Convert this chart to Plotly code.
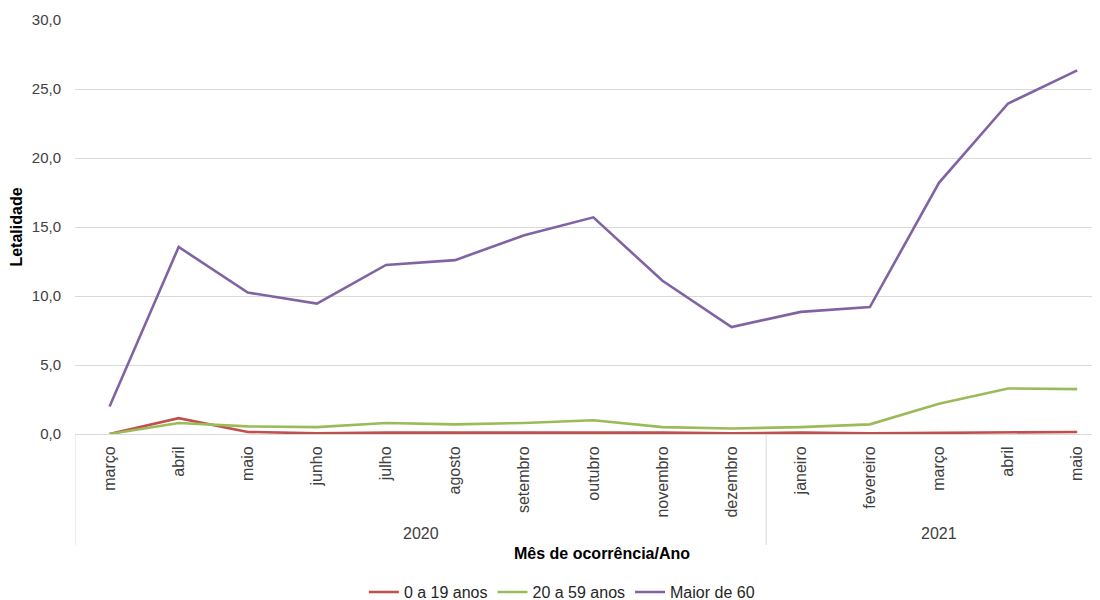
import plotly.graph_objects as go

years = ["2020", "2021"]
year_sizes = [10, 5]
months = ["março", "abril", "maio", "junho", "julho", "agosto", "setembro",
          "outubro", "novembro", "dezembro", "janeiro", "fevereiro", "março",
          "abril", "maio"]

s_0_19 = [0.0, 1.15, 0.15, 0.05, 0.1, 0.1, 0.1, 0.15, 0.1, 0.05, 0.1, 0.05, 0.1, 0.15, 0.15]
s_20_59 = [0.0, 0.8, 0.55, 0.5, 0.8, 0.7, 0.8, 1.0, 0.5, 0.4, 0.5, 0.7, 2.2, 3.3, 3.25]
s_60 = [2.0, 13.55, 10.25, 9.45, 12.25, 12.6, 14.4, 15.7, 11.1, 7.75, 8.85, 9.2, 18.2, 23.95, 26.35]

series = [
    ("0 a 19 anos", s_0_19, "#C0504D"),
    ("20 a 59 anos", s_20_59, "#9BBB59"),
    ("Maior de 60", s_60, "#8064A2"),
]

idx = list(range(len(months)))

fig = go.Figure()
for name, vals, color in series:
    fig.add_trace(go.Scatter(
        x=idx, y=vals, name=name, mode="lines",
        line=dict(color=color, width=2.6),
    ))

font_main = "Liberation Sans, Arial, sans-serif"
PLOT_H = 414
div_bottom = (434 - 545) / PLOT_H

shapes = []
annotations = []
start = 0
bounds = [-0.5]
for yr, n in zip(years, year_sizes):
    center = start + (n - 1) / 2
    annotations.append(dict(
        text=yr, x=center, xref="x", y=(434 - 533) / PLOT_H, yref="paper",
        showarrow=False, xanchor="center", yanchor="middle",
        font=dict(size=16, color="#404040"),
    ))
    start += n
    bounds.append(start - 0.5)
for b in bounds:
    shapes.append(dict(type="line", xref="x", yref="paper", x0=b, x1=b,
                       y0=0, y1=div_bottom, line=dict(color="#d9d9d9", width=1)))

annotations.append(dict(
    text="<b>Mês de ocorrência/Ano</b>", xref="paper", yref="paper",
    x=(602 - 75) / 1025, y=(434 - 553) / PLOT_H, xanchor="center", yanchor="middle",
    showarrow=False, font=dict(size=16, color="#000000"),
))

fig.update_layout(
    width=1092, height=592,
    margin=dict(l=67, r=0, t=12, b=166, autoexpand=False),
    paper_bgcolor="white", plot_bgcolor="white",
    separators=",.",
    font=dict(family=font_main, size=16, color="#404040"),
    showlegend=True,
    legend=dict(orientation="h", x=0.475, xanchor="center", y=-0.382, yanchor="middle",
                font=dict(size=16, color="#262626"), itemwidth=30, tracegroupgap=0),
    xaxis=dict(
        range=[-0.5, 14.33], tickmode="array", tickvals=idx, ticktext=months,
        tickangle=-90, tickfont=dict(size=16, color="#404040"),
        showline=True, linecolor="#d9d9d9", linewidth=1,
        showgrid=False, zeroline=False, ticks="", automargin=False,
        ticklabelstandoff=5,
    ),
    yaxis=dict(
        range=[0, 30], dtick=5, tickformat=".1f",
        showgrid=True, gridcolor="#d9d9d9", gridwidth=1,
        zeroline=True, zerolinecolor="#d9d9d9",
        tickfont=dict(size=15, color="#404040"),
        title=dict(text="<b>Letalidade</b>", font=dict(size=16, color="#000000"), standoff=8),
        ticks="", ticklabelstandoff=13, automargin=False,
    ),
    shapes=shapes,
    annotations=annotations,
)

fig.write_html("out.html")
